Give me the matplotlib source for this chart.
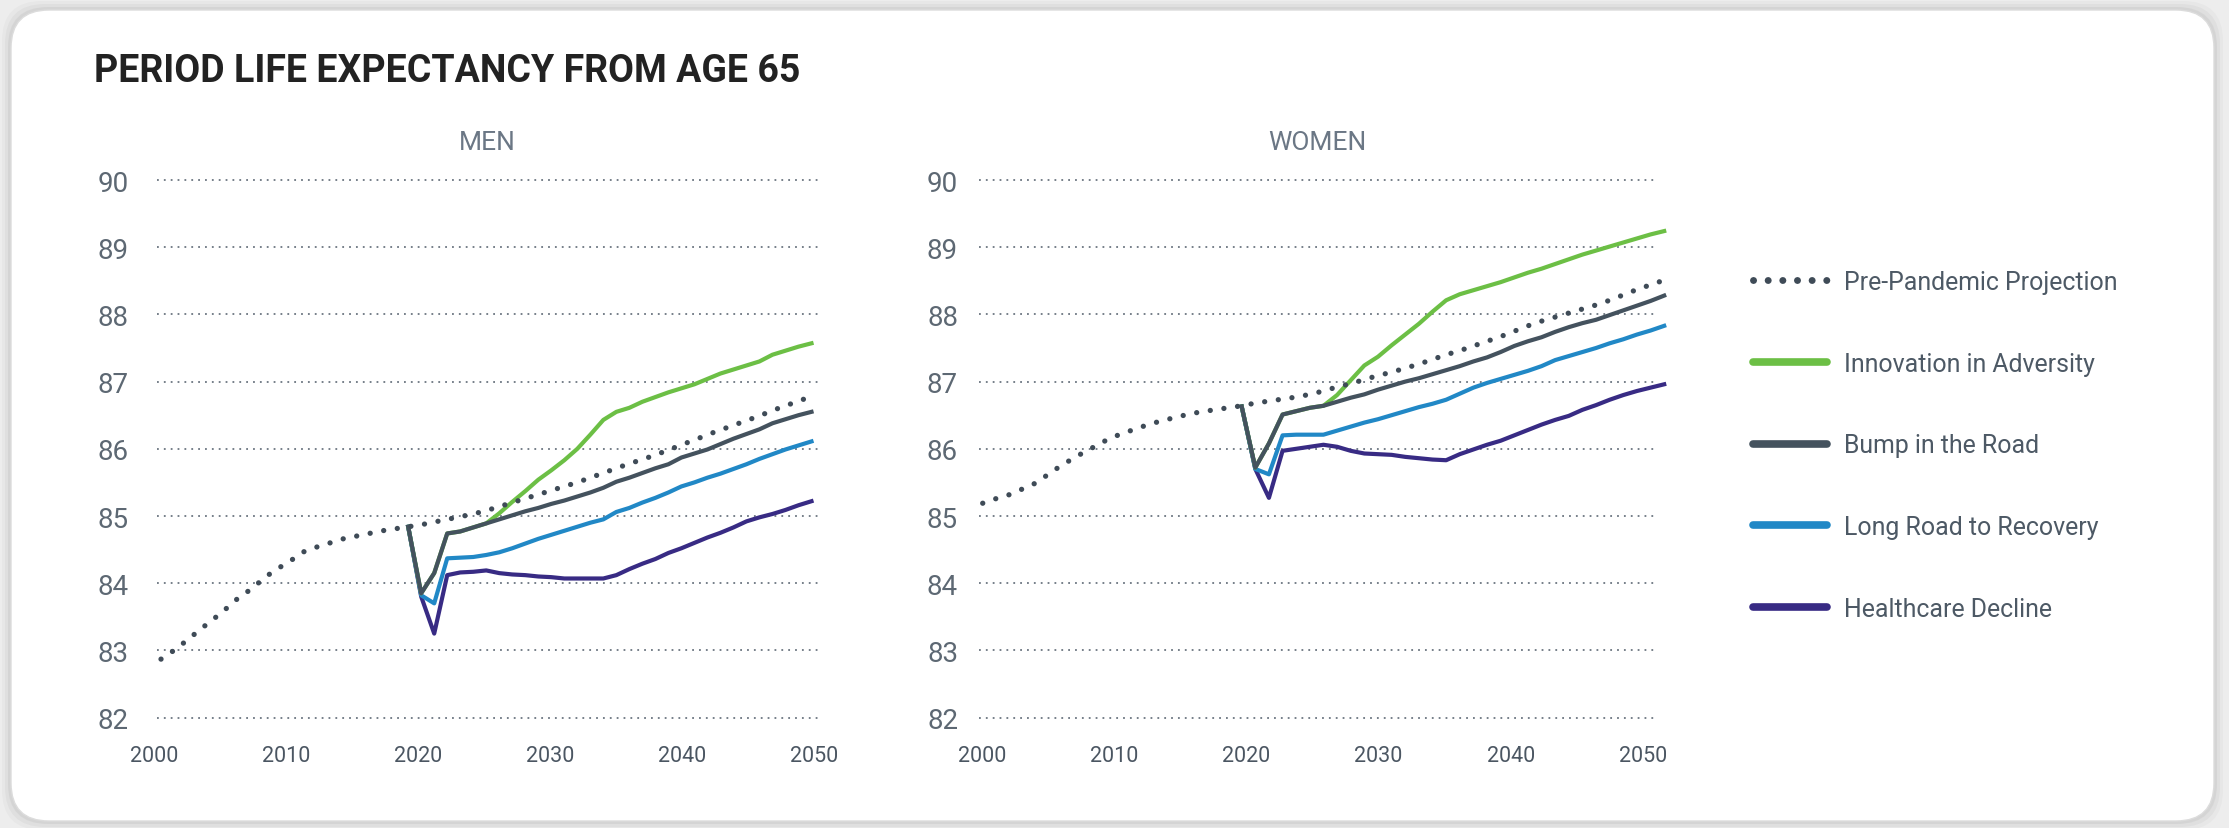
import numpy as np
import matplotlib.pyplot as plt
from matplotlib.patches import FancyBboxPatch
from matplotlib.lines import Line2D

plt.rcParams['font.family'] = ['Roboto', 'DejaVu Sans']

W, H = 2229, 829

# ---- data ----
years_pre = np.arange(2000, 2051)
years_scen = np.arange(2019, 2051)

men_pre = [82.87, 83.00, 83.15, 83.31, 83.46, 83.62, 83.79, 83.92, 84.09, 84.22,
           84.34, 84.47, 84.54, 84.60, 84.66, 84.70, 84.74, 84.78, 84.81, 84.84,
           84.87, 84.91, 84.95, 84.99, 85.03, 85.08, 85.14, 85.20, 85.26, 85.32,
           85.38, 85.44, 85.50, 85.57, 85.64, 85.71, 85.78, 85.84, 85.91, 85.98,
           86.06, 86.13, 86.21, 86.28, 86.35, 86.42, 86.49, 86.57, 86.64, 86.71, 86.78]
men_innovation = [84.84, 83.85, 84.15, 84.74, 84.77, 84.83, 84.89, 85.04, 85.21, 85.37,
                  85.54, 85.68, 85.83, 86.00, 86.21, 86.43, 86.55, 86.61, 86.70, 86.77,
                  86.84, 86.90, 86.96, 87.04, 87.12, 87.18, 87.24, 87.30, 87.40, 87.46,
                  87.52, 87.57]
men_bump = [84.84, 83.85, 84.15, 84.74, 84.77, 84.83, 84.89, 84.95, 85.01, 85.07,
            85.12, 85.18, 85.23, 85.29, 85.35, 85.42, 85.51, 85.57, 85.64, 85.71,
            85.77, 85.87, 85.93, 85.99, 86.07, 86.15, 86.22, 86.29, 86.38, 86.44,
            86.50, 86.55]
men_long_road = [84.84, 83.82, 83.70, 84.37, 84.38, 84.39, 84.42, 84.46, 84.52, 84.59,
                 84.66, 84.72, 84.78, 84.84, 84.90, 84.95, 85.06, 85.12, 85.20, 85.27,
                 85.35, 85.44, 85.50, 85.57, 85.63, 85.70, 85.77, 85.85, 85.92, 85.99,
                 86.05, 86.11]
men_decline = [84.84, 83.80, 83.25, 84.12, 84.16, 84.17, 84.19, 84.15, 84.13, 84.12,
               84.10, 84.09, 84.07, 84.07, 84.07, 84.07, 84.12, 84.21, 84.29, 84.36,
               84.45, 84.52, 84.60, 84.68, 84.75, 84.83, 84.92, 84.98, 85.03, 85.09,
               85.16, 85.22]

women_pre = [85.19, 85.26, 85.32, 85.41, 85.50, 85.65, 85.78, 85.90, 86.01, 86.12,
             86.21, 86.28, 86.35, 86.41, 86.46, 86.51, 86.55, 86.58, 86.61, 86.64,
             86.68, 86.71, 86.74, 86.77, 86.81, 86.86, 86.92, 86.97, 87.03, 87.09,
             87.14, 87.20, 87.26, 87.33, 87.40, 87.46, 87.53, 87.60, 87.67, 87.75,
             87.83, 87.90, 87.96, 88.02, 88.08, 88.14, 88.21, 88.29, 88.37, 88.44, 88.51]
women_innovation = [86.63, 85.72, 86.08, 86.51, 86.56, 86.61, 86.64, 86.80, 87.02, 87.24,
                    87.37, 87.54, 87.70, 87.86, 88.04, 88.21, 88.30, 88.36, 88.42, 88.48,
                    88.55, 88.62, 88.68, 88.75, 88.82, 88.89, 88.95, 89.01, 89.07, 89.13,
                    89.19, 89.24]
women_bump = [86.63, 85.72, 86.08, 86.51, 86.56, 86.61, 86.64, 86.70, 86.76, 86.81,
              86.88, 86.94, 87.00, 87.05, 87.11, 87.17, 87.23, 87.30, 87.36, 87.44,
              87.53, 87.60, 87.66, 87.74, 87.81, 87.87, 87.92, 87.99, 88.06, 88.13,
              88.20, 88.28]
women_long_road = [86.63, 85.70, 85.62, 86.20, 86.21, 86.21, 86.21, 86.27, 86.33, 86.39,
                   86.44, 86.50, 86.56, 86.62, 86.67, 86.73, 86.82, 86.91, 86.98, 87.04,
                   87.10, 87.16, 87.23, 87.32, 87.38, 87.44, 87.50, 87.57, 87.63, 87.70,
                   87.76, 87.83]
women_decline = [86.63, 85.70, 85.27, 85.97, 86.00, 86.03, 86.06, 86.03, 85.97, 85.93,
                 85.92, 85.91, 85.88, 85.86, 85.84, 85.83, 85.92, 85.99, 86.06, 86.12,
                 86.20, 86.28, 86.36, 86.43, 86.49, 86.58, 86.65, 86.73, 86.80, 86.86,
                 86.91, 86.96]

series_names = ['Pre-Pandemic Projection', 'Innovation in Adversity', 'Bump in the Road',
                'Long Road to Recovery', 'Healthcare Decline']
colors = {'pre': '#3f4b57', 'innov': '#6cbf45', 'bump': '#44525e',
          'long': '#2188c6', 'decline': '#382b84'}

y_ticks = [82, 83, 84, 85, 86, 87, 88, 89, 90]
x_tick_labels = ['2000', '2010', '2020', '2030', '2040', '2050']

# ---- figure + card background ----
fig = plt.figure(figsize=(W / 100, H / 100), dpi=100)
fig.patch.set_facecolor('#ededed')
bg = fig.add_axes([0, 0, 1, 1], zorder=-10)
bg.set_xlim(0, W)
bg.set_ylim(H, 0)
bg.axis('off')
for grow, a in [(9, 0.05), (6, 0.07), (3, 0.10)]:
    bg.add_patch(FancyBboxPatch((11 - grow, 11 - grow), 2203 + 2 * grow, 811 + 2 * grow,
                                boxstyle='round,pad=0,rounding_size=40',
                                fc='#7a7a7a', ec='none', alpha=a))
bg.add_patch(FancyBboxPatch((11, 11), 2203, 811, boxstyle='round,pad=0,rounding_size=38',
                            fc='white', ec='#dcdcdc', lw=1))

fig.text(94 / W, 1 - 72 / H, 'PERIOD LIFE EXPECTANCY FROM AGE 65', fontsize=27,
         fontweight='bold', color='#222222', va='center', ha='left')


def make_panel(x0, px_per_year, grid_end, tick_px, ylab_pad, title, title_x,
               pre, innov, bump, long_road, decline):
    # axes box in pixels: data x maps x0 + px_per_year * (year - 2000)
    xlo, xhi = 1998.5, 2051.5
    ylo, yhi = 81.7, 90.3
    left = x0 + (xlo - 2000) * px_per_year
    right = x0 + (xhi - 2000) * px_per_year
    top = 181 + (90 - yhi) * 67.2
    bottom = 181 + (90 - ylo) * 67.2
    ax = fig.add_axes([left / W, 1 - bottom / H, (right - left) / W, (bottom - top) / H])
    ax.set_xlim(xlo, xhi)
    ax.set_ylim(ylo, yhi)
    for s in ax.spines.values():
        s.set_visible(False)

    gx0 = 2000 - 4 / px_per_year
    ax.hlines(y_ticks, gx0, grid_end, colors='#6b7580', lw=1.3,
              linestyles=[(0, (1, 2.8))], zorder=1)

    ax.plot(years_scen, decline, color=colors['decline'], lw=3, zorder=3)
    ax.plot(years_scen, long_road, color=colors['long'], lw=3, zorder=4)
    ax.plot(years_scen, innov, color=colors['innov'], lw=3, zorder=5)
    ax.plot(years_scen, bump, color=colors['bump'], lw=3, zorder=6)
    ax.plot(years_pre, pre, color=colors['pre'], lw=3.8, linestyle=(0, (0.01, 2.6)),
            dash_capstyle='round', zorder=7)

    ax.set_yticks(y_ticks)
    ax.set_yticklabels([str(v) for v in y_ticks])
    ax.set_xticks([2000 + (p - x0) / px_per_year for p in tick_px])
    ax.set_xticklabels(x_tick_labels)
    ax.tick_params(axis='y', length=0, pad=ylab_pad, labelsize=20, labelcolor='#5d6873')
    ax.tick_params(axis='x', length=0, pad=5, labelsize=15.5, labelcolor='#4b5662')

    fig.text(title_x / W, 1 - 143 / H, title, fontsize=19, color='#6b7785',
             ha='center', va='center')
    return ax


make_panel(161, 13.01, 2050.65, [154 + 132 * k for k in range(6)], 9, 'MEN', 487,
           men_pre, men_innovation, men_bump, men_long_road, men_decline)
make_panel(982.7, 13.63, 2049.45, [982 + 132.2 * k for k in range(6)], 3, 'WOMEN', 1317,
           women_pre, women_innovation, women_bump, women_long_road, women_decline)

handles = [
    Line2D([], [], color=colors['pre'], lw=5, linestyle=(0, (0.01, 2.1)), dash_capstyle='round'),
    Line2D([], [], color=colors['innov'], lw=5.5, solid_capstyle='round'),
    Line2D([], [], color=colors['bump'], lw=5.5, solid_capstyle='round'),
    Line2D([], [], color=colors['long'], lw=5.5, solid_capstyle='round'),
    Line2D([], [], color=colors['decline'], lw=5.5, solid_capstyle='round'),
]
leg = fig.legend(handles, series_names, loc='upper left',
                 bbox_to_anchor=(1753 / W, 1 - 271 / H), frameon=False,
                 fontsize=17.9, handlelength=2.97, handletextpad=0.68,
                 labelspacing=2.32, borderpad=0, borderaxespad=0)
for t in leg.get_texts():
    t.set_color('#4d5965')

fig.savefig('out.png', dpi=100, facecolor=fig.get_facecolor())
